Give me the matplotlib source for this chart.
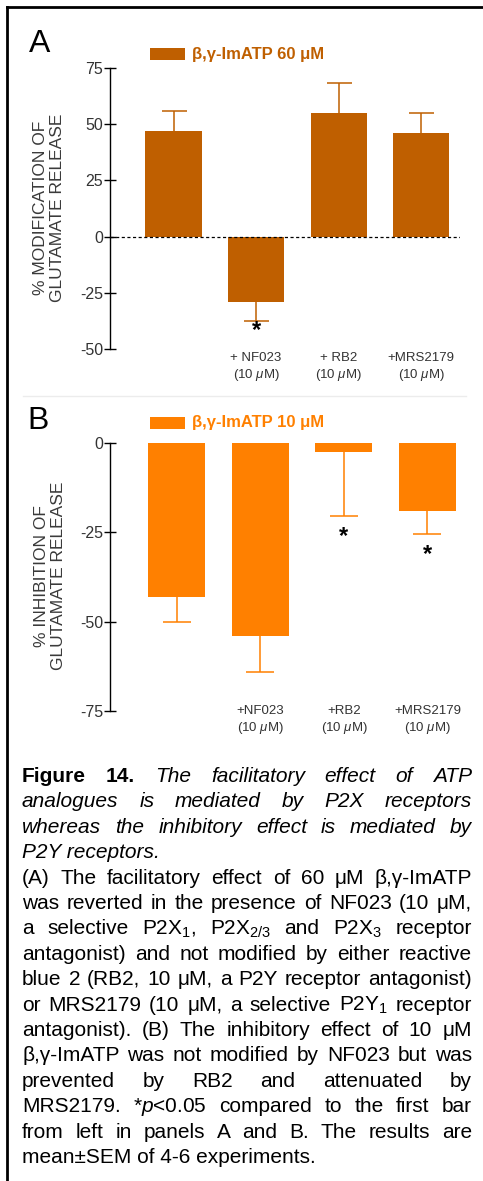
import matplotlib
matplotlib.use("Agg")
import matplotlib.pyplot as plt
from matplotlib.lines import Line2D
from matplotlib.patches import Rectangle

plt.rcParams['font.family'] = ['Liberation Sans', 'DejaVu Sans']
plt.rcParams['mathtext.fontset'] = 'custom'
plt.rcParams['mathtext.rm'] = 'Liberation Sans'
plt.rcParams['mathtext.it'] = 'Liberation Sans:italic'
plt.rcParams['mathtext.bf'] = 'Liberation Sans:bold'
plt.rcParams['axes.unicode_minus'] = False

# panel A: 60 uM
a_labels = ["", "+ NF023\n(10 $\\mu$M)", "+ RB2\n(10 $\\mu$M)", "+MRS2179\n(10 $\\mu$M)"]
a_mean = [47, -29, 55, 46]
a_sem = [9, 8.5, 13.5, 9]
a_sig = [False, True, False, False]
a_ticks = [-50, -25, 0, 25, 50, 75]

# panel B: 10 uM
b_labels = ["", "+NF023\n(10 $\\mu$M)", "+RB2\n(10 $\\mu$M)", "+MRS2179\n(10 $\\mu$M)"]
b_mean = [-43, -54, -2.5, -19]
b_sem = [7, 10, 18, 6.5]
b_sig = [False, False, True, True]
b_ticks = [-75, -50, -25, 0]

cap_lines = [
    "Figure 14. The facilitatory effect of ATP",
    "analogues is mediated by P2X receptors",
    "whereas the inhibitory effect is mediated by",
    "P2Y receptors.",
    "(A) The facilitatory effect of 60 μM β,γ-ImATP",
    "was reverted in the presence of NF023 (10 μM,",
    r"a selective P2X$_1$, P2X$_{2/3}$ and P2X$_3$ receptor",
    "antagonist) and not modified by either reactive",
    "blue 2 (RB2, 10 μM, a P2Y receptor antagonist)",
    r"or MRS2179 (10 μM, a selective P2Y$_1$ receptor",
    "antagonist). (B) The inhibitory effect of 10 μM",
    "β,γ-ImATP was not modified by NF023 but was",
    "prevented by RB2 and attenuated by",
    r"MRS2179. *$p$<0.05 compared to the first bar",
    "from left in panels A and B. The results are",
    "mean±SEM of 4-6 experiments.",
]
italic_lines = {0, 1, 2, 3}
left_lines = {3, 15}

W, H = 483, 1181
fig = plt.figure(figsize=(W / 100, H / 100), dpi=100)
fig.patch.set_facecolor('white')

def px(x, y):
    return x / W, 1 - y / H

def panel(rect, means, sems, sig, labels, ticks, color, xlim, star_off, lab_pad, dashed, capw):
    l, t, r, b = rect
    ax = fig.add_axes([l / W, 1 - b / H, (r - l) / W, (b - t) / H])
    x = list(range(len(means)))
    # one-sided SEM: away from zero
    ends = [m + s if m > 0 else m - s for m, s in zip(means, sems)]
    ax.bar(x, means, width=0.68, color=color, zorder=2)
    ax.vlines(x, means, ends, color=color, lw=1.1, zorder=1)
    ax.plot(x, ends, ls='none', marker='_', markersize=capw, markeredgewidth=1.1,
            color=color, zorder=1)
    if dashed:
        ax.axhline(0, color='black', lw=0.9, ls=(0, (2.5, 2)), zorder=3)
    for i, s in enumerate(sig):
        if s:
            ax.annotate('*', xy=(i, ends[i]), xytext=(0, -star_off),
                        textcoords='offset points', ha='center', va='center',
                        fontsize=17, fontweight='bold', color='black')
    ax.set_ylim(ticks[0], ticks[-1])
    ax.set_xlim(*xlim)
    ax.set_yticks(ticks)
    ax.set_xticks(x, labels)
    for sp in ['top', 'right', 'bottom']:
        ax.spines[sp].set_visible(False)
    ax.spines['left'].set_linewidth(1.0)
    ax.tick_params(axis='y', direction='inout', length=8, width=1,
                   labelsize=11.5, labelcolor='#333333', pad=1)
    ax.tick_params(axis='x', length=0, labelsize=9.5, labelcolor='#333333', pad=lab_pad)
    for tl in ax.get_xticklabels():
        tl.set_linespacing(1.25)
    ax.set_facecolor('none')
    return ax

panel((110, 68, 460, 349), a_mean, a_sem, a_sig, a_labels, a_ticks, '#BF5F00',
      (-0.77, 3.47), 7, 2, True, 18)
panel((110, 443, 460, 711), b_mean, b_sem, b_sig, b_labels, b_ticks, '#FF8000',
      (-0.80, 3.39), 14.5, -4.5, False, 20)

# panel letters, legends, y labels
fig.text(*px(39.5, 44), "A", fontsize=23, ha='center', va='center')
fig.text(*px(38.5, 421), "B", fontsize=23, ha='center', va='center')
for y0, col, txt in [(48, '#BF5F00', "β,γ-ImATP 60 μM"), (417, '#FF8000', "β,γ-ImATP 10 μM")]:
    fig.add_artist(Rectangle(px(150, y0 + 12), 35 / W, 12 / H, transform=fig.transFigure,
                             color=col, lw=0))
    fig.text(*px(192, y0 + 6), txt, fontsize=12, fontweight='bold', color=col,
             ha='left', va='center')
fig.text(*px(49, 208), "% MODIFICATION OF\nGLUTAMATE RELEASE", rotation=90,
         fontsize=12.5, color='#3a3a3a', ha='center', va='center',
         multialignment='center', linespacing=1.15)
fig.text(*px(50, 576), "% INHIBITION OF\nGLUTAMATE RELEASE", rotation=90,
         fontsize=12.5, color='#3a3a3a', ha='center', va='center',
         multialignment='center', linespacing=1.15)

# frame
fig.add_artist(Line2D([7 / W, 1], [1 - 7 / H] * 2, transform=fig.transFigure, color='black', lw=2))
fig.add_artist(Line2D([7 / W] * 2, [1 - 7 / H, 0], transform=fig.transFigure, color='black', lw=2))
fig.add_artist(Line2D([23 / W, 466 / W], [1 - 396 / H] * 2, transform=fig.transFigure,
                      color='#ececec', lw=1))

# caption, justified word by word
renderer = fig.canvas.get_renderer()
LEFT, RIGHT = 22, 472
base0, step = 782, 25.4
for n, line in enumerate(cap_lines):
    y = base0 + step * n
    words = line.split(" ")
    if n in left_lines:
        fig.text(*px(LEFT, y), line, fontsize=15, va='baseline', ha='left',
                 style='italic' if n in italic_lines else 'normal')
        continue
    texts = []
    for k, w in enumerate(words):
        kw = {}
        if n == 0 and k < 2:
            kw['fontweight'] = 'bold'
        elif n in italic_lines:
            kw['style'] = 'italic'
        texts.append(fig.text(*px(LEFT, y), w, fontsize=15, va='baseline', ha='left', **kw))
    widths = [t.get_window_extent(renderer).width for t in texts]
    gap = (RIGHT - LEFT - sum(widths)) / (len(words) - 1)
    xx = LEFT
    for t, w in zip(texts, widths):
        t.set_x(xx / W)
        xx += w + gap

fig.savefig("out.png", dpi=100)
